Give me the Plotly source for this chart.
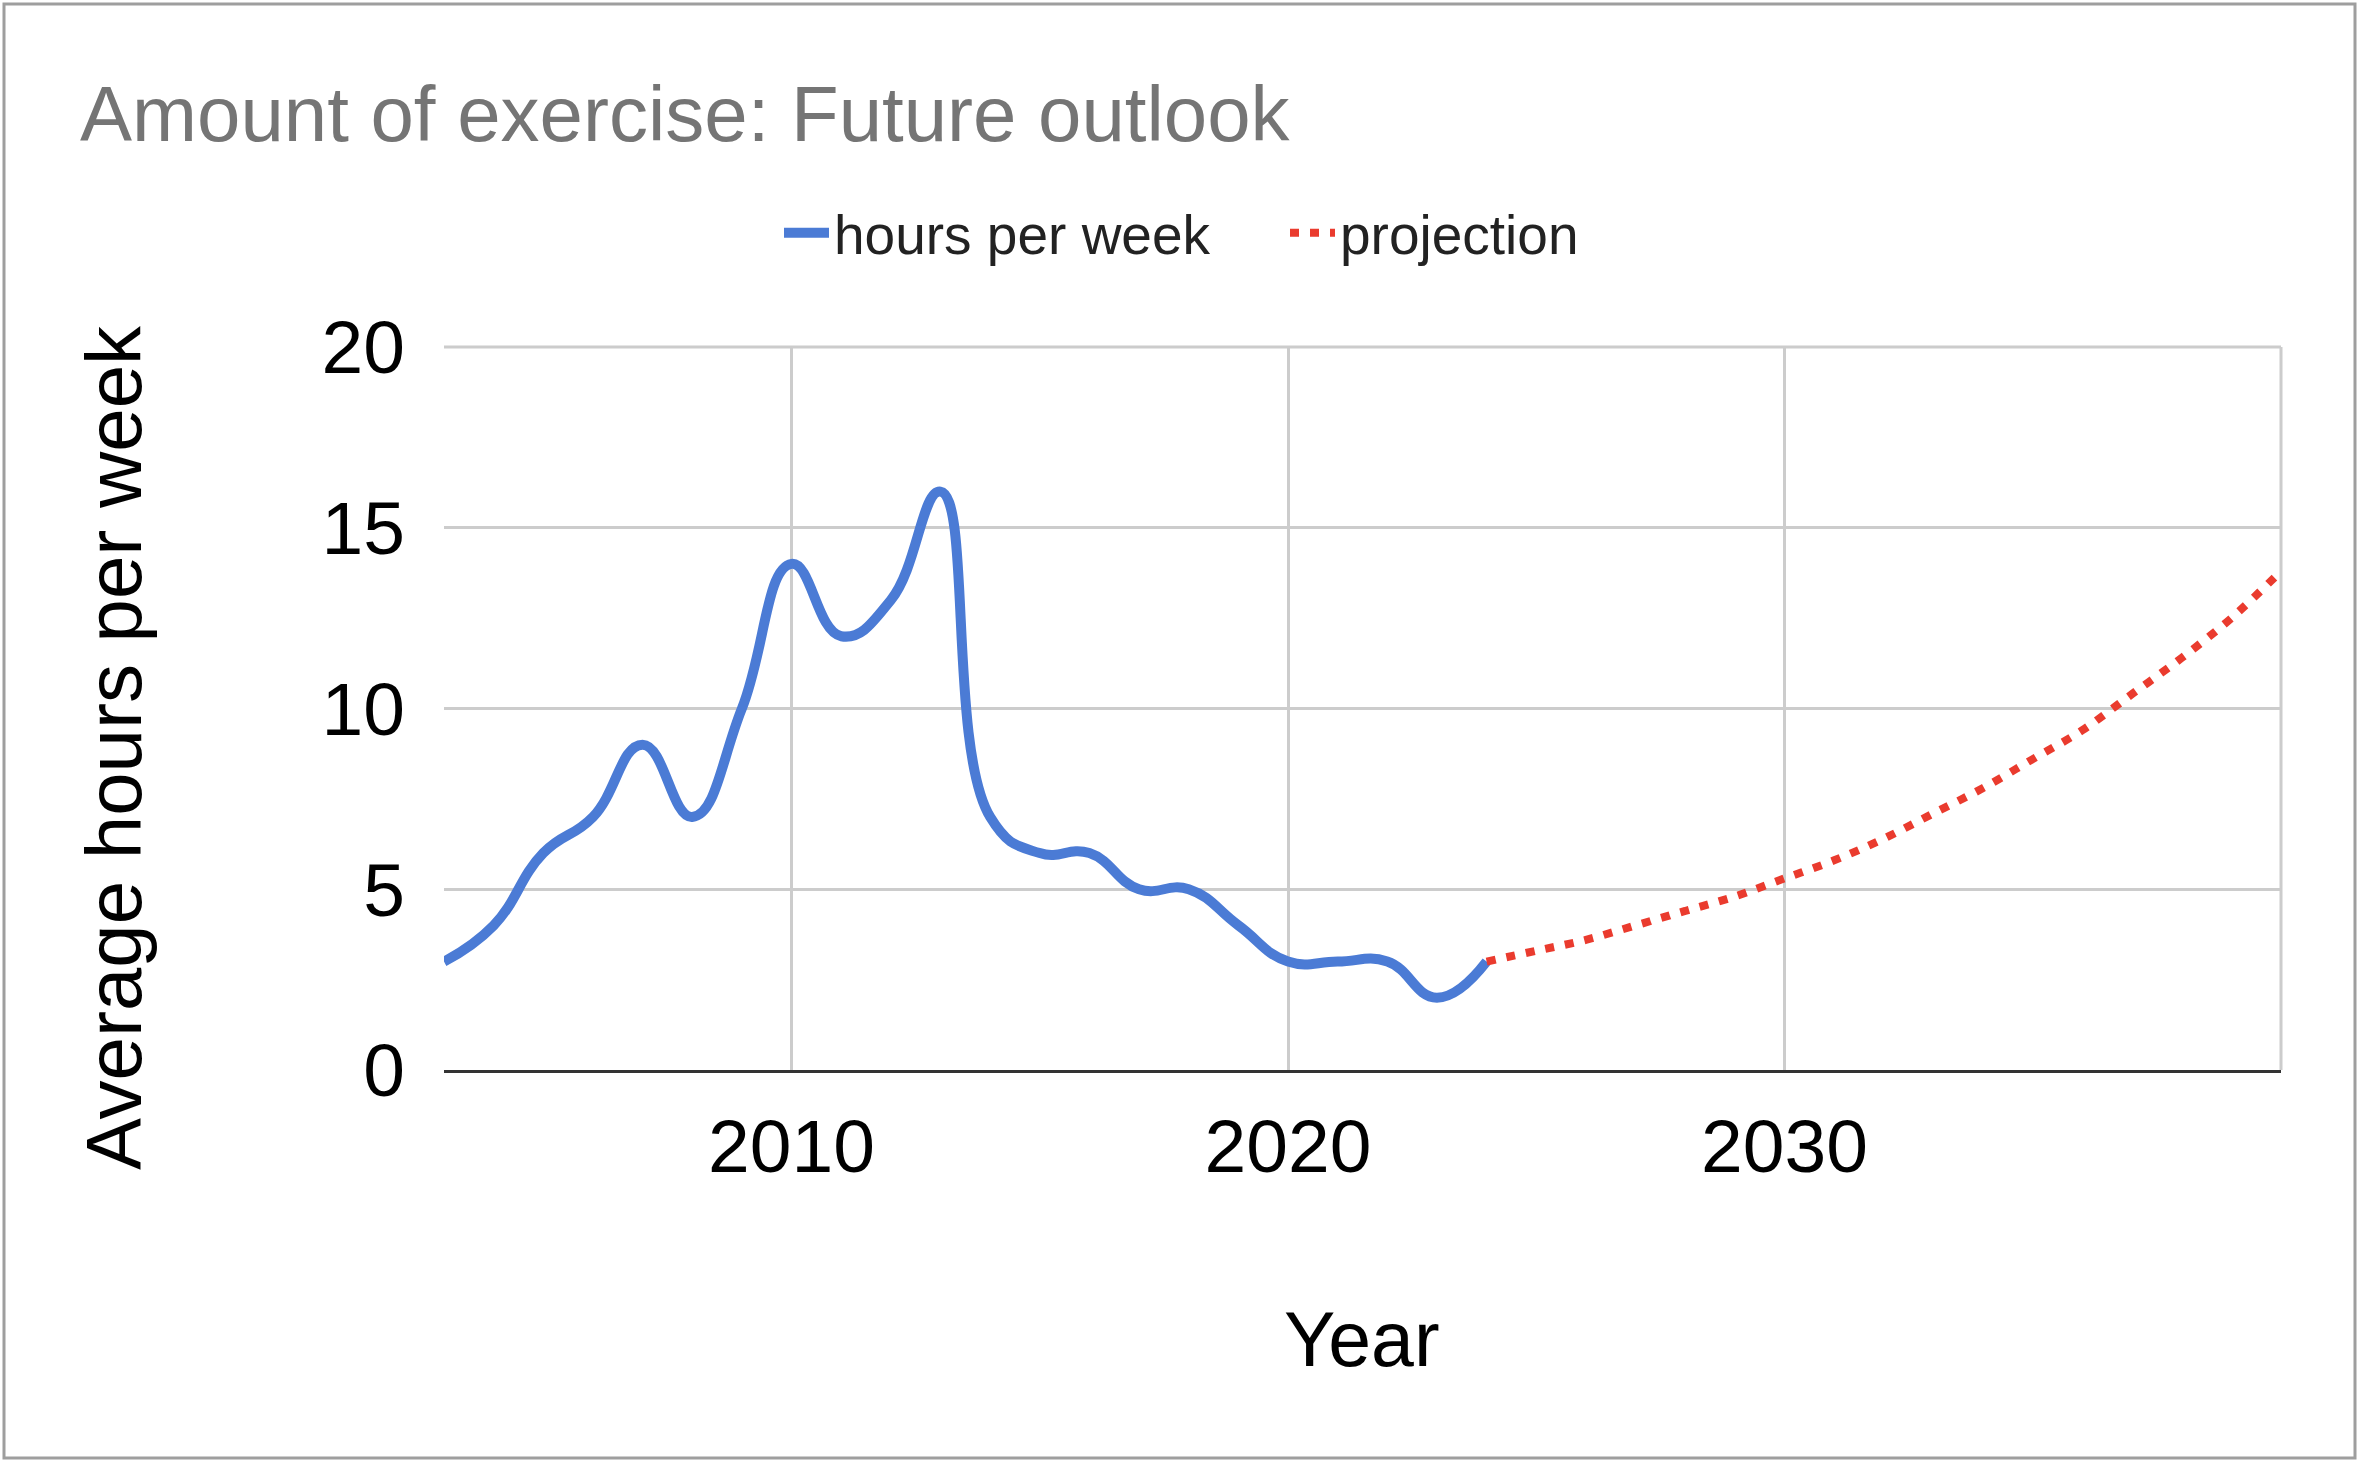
import plotly.graph_objects as go

# ---- data ----
hist_years = [2003, 2004, 2005, 2006, 2007, 2008, 2009, 2010, 2011, 2012, 2013,
              2014, 2015, 2016, 2017, 2018, 2019, 2020, 2021, 2022, 2023, 2024]
hist_hours = [3, 4, 6, 7, 9, 7, 10, 14, 12, 13, 16,
              7, 6, 6, 5, 5, 4, 3, 3, 3, 2, 3]

proj_years = [2024, 2025, 2026, 2027, 2028, 2029, 2030, 2031, 2032, 2033,
              2034, 2035, 2036, 2037, 2038, 2039, 2040]
proj_hours = [3.0, 3.3, 3.6, 4.0, 4.4, 4.8, 5.3, 5.8, 6.4, 7.1,
              7.8, 8.6, 9.4, 10.4, 11.4, 12.5, 13.8]

x_tickvals = [2010, 2020, 2030, 2040]
x_ticktext = ["2010", "2020", "2030", ""]
y_tickvals = [0, 5, 10, 15, 20]

title_text = "Amount of exercise: Future outlook"
x_title = "Year"
y_title = "Average hours per week"
series_names = ["hours per week", "projection"]

# ---- figure ----
W, H = 2362, 1462
L, R, T, B = 444, 81, 347, 392
PW, PH = W - L - R, H - T - B
FONT = "Liberation Sans, Arial, sans-serif"
GRID = "#CCCCCC"


def px_x(px):
    return (px - L) / PW


def px_y(py):
    return (H - B - py) / PH


fig = go.Figure()
fig.add_trace(go.Scatter(
    x=hist_years, y=hist_hours, name=series_names[0], mode="lines",
    line=dict(color="#4B7BD5", width=10, shape="spline", smoothing=1.3),
))
fig.add_trace(go.Scatter(
    x=proj_years, y=proj_hours, name=series_names[1], mode="lines",
    line=dict(color="#EA3B2E", width=8, dash="9px,11px", shape="spline"),
))

fig.update_layout(
    width=W, height=H, autosize=False,
    margin=dict(l=L, r=R, t=T, b=B),
    paper_bgcolor="white", plot_bgcolor="white",
    font=dict(family=FONT, color="#000000"),
    title=dict(text=title_text, x=80 / W, xanchor="left", xref="container",
               y=1 - 113.5 / H, yanchor="middle", yref="container",
               font=dict(size=78, color="#757575", family=FONT)),
    showlegend=True,
    legend=dict(orientation="h", x=px_x(1285), xanchor="center",
                y=px_y(233), yanchor="middle",
                font=dict(size=55, color="#222222", family=FONT),
                itemwidth=45, entrywidth=446, entrywidthmode="pixels",
                bgcolor="rgba(0,0,0,0)"),
    xaxis=dict(range=[2003, 2040], tickvals=x_tickvals, ticktext=x_ticktext,
               showgrid=True, gridcolor=GRID, gridwidth=3,
               showline=True, linecolor="#333333", linewidth=3,
               zeroline=False, ticks="", ticklabelstandoff=9,
               tickfont=dict(size=75, color="#000000", family=FONT)),
    yaxis=dict(range=[0, 20], tickvals=y_tickvals,
               showgrid=True, gridcolor=GRID, gridwidth=3,
               zeroline=False, showline=False, ticks="",
               ticklabelstandoff=38,
               tickfont=dict(size=75, color="#000000", family=FONT)),
    annotations=[
        dict(text=x_title, xref="paper", yref="paper",
             x=px_x(1362), y=px_y(1339), xanchor="center", yanchor="middle",
             showarrow=False, font=dict(size=77, color="#000000", family=FONT)),
        dict(text=y_title, xref="paper", yref="paper", textangle=-90,
             x=px_x(114), y=px_y(748), xanchor="center", yanchor="middle",
             showarrow=False, font=dict(size=78, color="#000000", family=FONT)),
    ],
    shapes=[
        # chart border
        dict(type="rect", xref="paper", yref="paper",
             x0=px_x(4), x1=px_x(2355), y0=px_y(1458), y1=px_y(4),
             line=dict(color="#9E9E9E", width=3), fillcolor="rgba(0,0,0,0)",
             layer="below"),
        # gridlines on the plot-area edges (top and right)
        dict(type="line", xref="paper", yref="paper", x0=0, x1=1, y0=1, y1=1,
             line=dict(color=GRID, width=3), layer="below"),
        dict(type="line", xref="paper", yref="paper", x0=1, x1=1, y0=0, y1=1,
             line=dict(color=GRID, width=3), layer="below"),
    ],
)

fig.write_html("out.html")
